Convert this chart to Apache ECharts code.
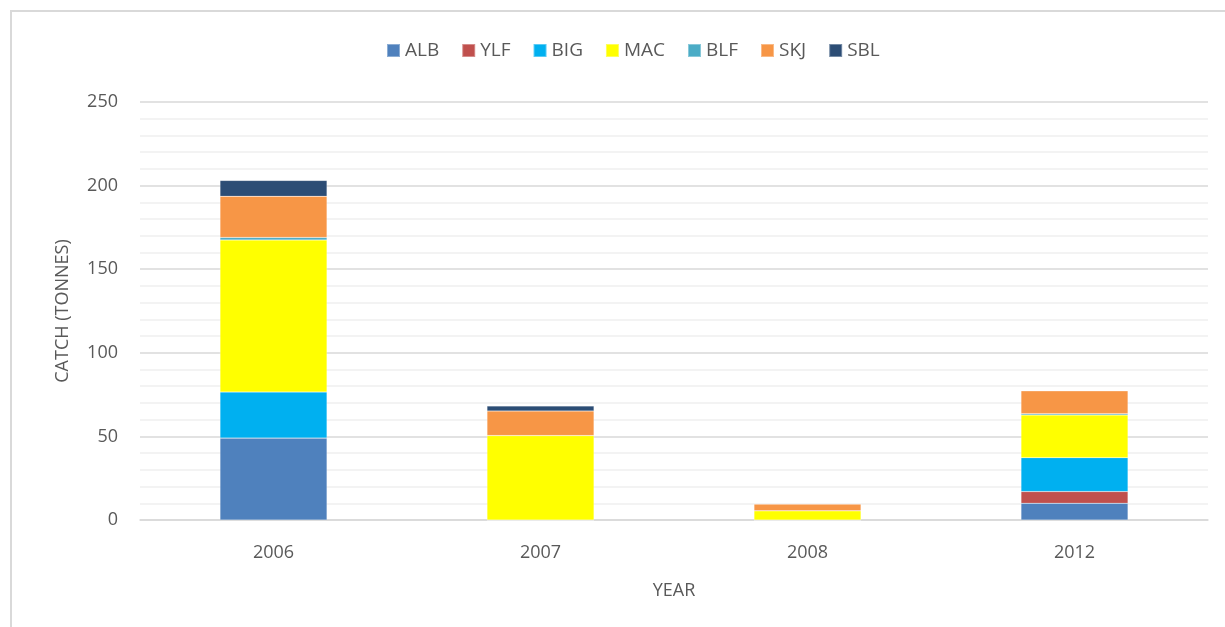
<!DOCTYPE html>
<html>
<head>
    <meta charset="utf-8">
    <title>Catch by year</title>
    <script src="https://cdn.jsdelivr.net/npm/echarts/dist/echarts.min.js"></script>
    <style>
        html, body { margin: 0; padding: 0; background: #fff; }
    </style>
</head>
<body>
    <div id="chart" style="width: 1225px; height: 627px;"></div>

    <script type="text/javascript">
        // data
        var years = ['2006', '2007', '2008', '2012'];
        var speciesNames = ['ALB', 'YLF', 'BIG', 'MAC', 'BLF', 'SKJ', 'SBL'];
        var alb = [49, 0, 0, 10];
        var ylf = [0, 0, 0, 7];
        var big = [27.5, 0, 0, 20.3];
        var mac = [91, 50.5, 5.5, 25.5];
        var blf = [1.5, 0, 0, 0.8];
        var skj = [24.6, 14.7, 4, 13.7];
        var sbl = [9.5, 3, 0, 0];
        var yTicks = [0, 50, 100, 150, 200, 250];

        var seriesValues = [alb, ylf, big, mac, blf, skj, sbl];
        var colors = ['#4f81bd', '#c0504d', '#00b0f0', '#ffff00', '#4bacc6', '#f79646', '#2c4d75'];
        var font = 'Open Sans, Noto Sans, sans-serif';

        var chart = echarts.init(document.getElementById('chart'));

        var option = {
            color: colors,
            animation: false,
            legend: {
                top: 36,
                left: 381,
                itemWidth: 13,
                itemHeight: 13,
                itemGap: 22,
                icon: 'rect',
                textStyle: { color: '#595959', fontSize: 19, fontFamily: font },
                data: speciesNames
            },
            grid: { left: 140, right: 17, top: 102, bottom: 107 },
            xAxis: {
                type: 'category',
                data: years,
                name: 'YEAR',
                nameLocation: 'middle',
                nameGap: 62,
                nameTextStyle: { color: '#595959', fontSize: 18, fontFamily: font },
                axisLine: { lineStyle: { color: '#d9d9d9', width: 1.5 } },
                axisTick: { show: false },
                axisLabel: { color: '#595959', fontSize: 18, fontFamily: font, margin: 24 }
            },
            yAxis: {
                type: 'value',
                min: yTicks[0],
                max: yTicks[yTicks.length - 1],
                interval: 50,
                name: 'CATCH (TONNES)',
                nameLocation: 'middle',
                nameGap: 68,
                nameTextStyle: { color: '#595959', fontSize: 18, fontFamily: font },
                axisLine: { show: false },
                axisTick: { show: false },
                axisLabel: { color: '#595959', fontSize: 18, fontFamily: font, margin: 22 },
                splitLine: { lineStyle: { color: '#d9d9d9', width: 1.5 } },
                minorTick: { show: false, splitNumber: 5 },
                minorSplitLine: { show: true, lineStyle: { color: '#f0f0f0', width: 1.5 } }
            },
            graphic: [{
                type: 'rect',
                shape: { x: 11, y: 11, width: 1240, height: 640 },
                style: { fill: 'none', stroke: '#d9d9d9', lineWidth: 2 },
                silent: true
            }],
            series: speciesNames.map(function (name, i) {
                return {
                    name: name,
                    type: 'bar',
                    stack: 'catch',
                    barWidth: 107,
                    data: seriesValues[i],
                    itemStyle: { borderColor: 'rgba(255,255,255,0.35)', borderWidth: 0.5 }
                };
            })
        };

        chart.setOption(option);
    </script>
</body>
</html>
